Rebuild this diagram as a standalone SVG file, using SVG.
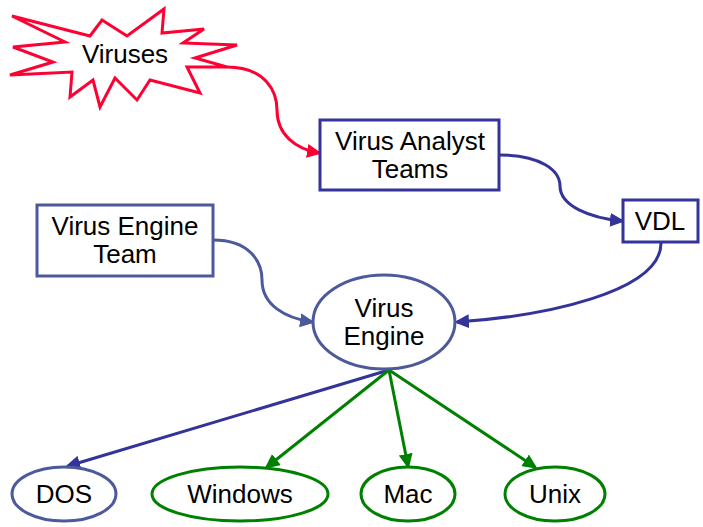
<svg xmlns="http://www.w3.org/2000/svg" width="703" height="527" viewBox="0 0 703 527">
  <style>
    text { font-family: "Liberation Sans", Arial, sans-serif; font-size: 26px; fill: #000; text-anchor: middle; }
    .navy { fill: #fff; stroke: #333399; stroke-width: 3; }
    .slate { fill: #fff; stroke: #4c5a9c; stroke-width: 3; }
    .green { fill: #fff; stroke: #008000; stroke-width: 3; }
    .edge { fill: none; stroke-width: 3; }
  </style>
  <defs>
    <marker id="ah-red" markerUnits="userSpaceOnUse" markerWidth="15" markerHeight="14" refX="12" refY="7" orient="auto">
      <path d="M0,0 L15,7 L0,14 z" fill="#ff0033"/>
    </marker>
    <marker id="ah-navy" markerUnits="userSpaceOnUse" markerWidth="15" markerHeight="14" refX="12" refY="7" orient="auto">
      <path d="M0,0 L15,7 L0,14 z" fill="#333399"/>
    </marker>
    <marker id="ah-slate" markerUnits="userSpaceOnUse" markerWidth="15" markerHeight="14" refX="12" refY="7" orient="auto">
      <path d="M0,0 L15,7 L0,14 z" fill="#4c5a9c"/>
    </marker>
    <marker id="ah-green" markerUnits="userSpaceOnUse" markerWidth="15" markerHeight="14" refX="12" refY="7" orient="auto">
      <path d="M0,0 L15,7 L0,14 z" fill="#008000"/>
    </marker>
  </defs>

  <!-- connectors -->
  <g id="edges">
    <path class="edge" stroke="#ff0033" marker-end="url(#ah-red)" d="M227,67 C266,67 277,92 277,110 C277,135 296,149 319,153"/>
    <path class="edge" stroke="#333399" marker-end="url(#ah-navy)" d="M499,155 C540,155 560,170 560,186 C560,206 590,218 622,221"/>
    <path class="edge" stroke="#333399" marker-end="url(#ah-navy)" d="M661,243 C661,292 545,316 457,322"/>
    <path class="edge" stroke="#4c5a9c" marker-end="url(#ah-slate)" d="M213,240 C250,240 262,262 262,280 C262,305 285,318 312,322"/>
    <path class="edge" stroke="#333399" marker-end="url(#ah-navy)" d="M389,370 L68,466"/>
    <path class="edge" stroke="#008000" marker-end="url(#ah-green)" d="M389,370 L267,467"/>
    <path class="edge" stroke="#008000" marker-end="url(#ah-green)" d="M389,370 L408,466"/>
    <path class="edge" stroke="#008000" marker-end="url(#ah-green)" d="M389,370 L535,467"/>
  </g>

  <g id="viruses">
    <polygon fill="#fff" stroke="#ff0033" stroke-width="3" stroke-linejoin="miter"
      points="12,16 90,36 102,20 127,36 164,9 162,33 204,29 183,43 237,45 195,58 227,67 187,67 200,93 150,80 137,100 115,78 100,107 93,80 70,97 72,72 10,75 53,62 13,47 65,42"/>
    <text x="125" y="63">Viruses</text>
  </g>

  <g id="virus-analyst-teams">
    <rect class="navy" x="320" y="120" width="179" height="70"/>
    <text x="410" y="150">Virus Analyst</text>
    <text x="410" y="178">Teams</text>
  </g>

  <g id="vdl">
    <rect class="navy" x="623" y="200" width="75" height="42"/>
    <text x="660" y="230">VDL</text>
  </g>

  <g id="virus-engine-team">
    <rect class="slate" x="37" y="205" width="176" height="71"/>
    <text x="125" y="235">Virus Engine</text>
    <text x="125" y="263">Team</text>
  </g>

  <g id="virus-engine">
    <ellipse class="slate" cx="384" cy="322" rx="71" ry="47"/>
    <text x="384" y="317">Virus</text>
    <text x="384" y="345">Engine</text>
  </g>

  <g id="dos">
    <ellipse class="slate" cx="64" cy="494" rx="52" ry="27"/>
    <text x="64" y="503">DOS</text>
  </g>

  <g id="windows">
    <ellipse class="green" cx="240" cy="494" rx="88" ry="27"/>
    <text x="240" y="503">Windows</text>
  </g>

  <g id="mac">
    <ellipse class="green" cx="408" cy="494" rx="47" ry="27"/>
    <text x="408" y="503">Mac</text>
  </g>

  <g id="unix">
    <ellipse class="green" cx="555" cy="494" rx="50" ry="27"/>
    <text x="555" y="503">Unix</text>
  </g>
</svg>
